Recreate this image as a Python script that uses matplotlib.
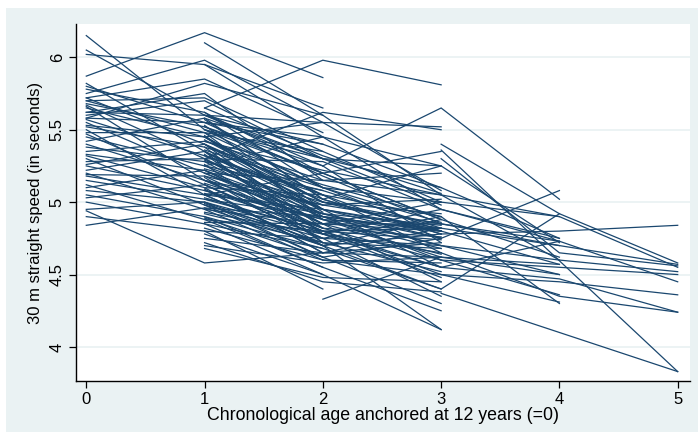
import numpy as np
import matplotlib.pyplot as plt
from matplotlib.patches import Rectangle

plt.rcParams['font.family'] = ['Liberation Sans', 'DejaVu Sans']

filename = 'out'
linecolor = '#1a476f'
bgcolor = '#eaf2f3'

# cohort measured at ages 0, 1, 2
ages0 = [0, 1, 2]
c0 = [
    (6.15, 5.50, 5.20), (6.05, 5.60, 5.30), (6.02, 5.95, 5.65), (5.87, 6.17, 5.86),
    (5.82, 5.35, 4.95), (5.78, 5.62, 5.10), (5.75, 5.98, 5.55), (5.72, 5.40, 5.05),
    (5.70, 5.72, 5.35), (5.68, 5.52, 5.20), (5.67, 5.30, 4.85), (5.65, 5.45, 5.00),
    (5.62, 5.60, 5.25), (5.58, 5.55, 5.45), (5.55, 5.20, 4.90), (5.52, 5.38, 4.78),
    (5.50, 5.05, 4.70), (5.48, 5.48, 5.10), (5.45, 5.25, 4.95), (5.42, 5.58, 5.02),
    (5.40, 5.15, 4.82), (5.35, 5.42, 5.15), (5.32, 5.10, 4.65), (5.30, 4.98, 4.75),
    (5.28, 5.30, 4.92), (5.25, 5.08, 4.88), (5.22, 5.35, 4.72), (5.20, 4.95, 4.60),
    (5.19, 5.18, 4.98), (5.15, 5.02, 4.80), (5.12, 4.88, 4.55), (5.10, 5.22, 4.85),
    (5.05, 4.90, 4.68), (5.03, 5.12, 4.78), (5.00, 4.85, 4.50), (4.95, 5.00, 4.62),
    (4.94, 4.58, 4.65), (4.90, 4.80, 4.40), (4.84, 4.96, 4.70), (5.58, 5.82, 5.60),
    (5.62, 5.75, 5.15), (5.80, 5.55, 5.40), (5.70, 5.48, 4.88), (5.66, 5.15, 4.80),
    (5.57, 5.32, 5.05), (5.53, 5.45, 4.93), (5.47, 5.12, 4.75), (5.38, 5.28, 5.08),
    (5.33, 5.22, 4.82), (5.26, 5.40, 5.00), (5.18, 5.05, 4.95), (5.08, 5.00, 4.72),
    (5.72, 5.85, 5.48), (5.60, 5.70, 5.30),
]

# cohort measured at ages 1, 2, 3
ages1 = [1, 2, 3]
c1 = [
    (6.10, 5.60, 5.05), (5.95, 5.45, 4.95), (5.65, 5.98, 5.81), (5.60, 5.40, 5.10),
    (5.58, 5.30, 5.25), (5.55, 5.18, 4.85), (5.52, 5.25, 4.72), (5.50, 5.10, 4.80),
    (5.48, 5.35, 5.00), (5.45, 5.05, 4.65), (5.42, 5.22, 5.05), (5.40, 4.95, 4.55),
    (5.38, 5.12, 4.90), (5.35, 4.88, 4.62), (5.32, 5.02, 4.78), (5.30, 5.28, 4.95),
    (5.28, 4.85, 4.45), (5.25, 5.08, 4.82), (5.22, 4.92, 4.70), (5.20, 5.15, 5.20),
    (5.18, 4.80, 4.50), (5.15, 4.98, 4.85), (5.12, 4.75, 4.35), (5.10, 5.05, 4.75),
    (5.08, 4.82, 4.60), (5.05, 4.70, 4.12), (5.02, 4.90, 4.80), (5.00, 4.78, 4.55),
    (4.98, 4.62, 4.30), (4.95, 4.85, 5.00), (4.92, 4.72, 4.68), (4.90, 4.55, 4.25),
    (4.88, 4.80, 4.82), (4.85, 4.68, 4.40), (4.82, 4.60, 4.58), (4.80, 4.75, 4.90),
    (4.78, 4.50, 4.12), (4.75, 4.65, 4.72), (4.72, 4.45, 4.38), (4.70, 4.58, 4.62),
    (4.68, 4.48, 4.45), (5.45, 5.55, 5.08), (5.35, 4.98, 5.02), (5.25, 5.45, 5.25),
    (5.60, 5.55, 5.52), (5.30, 5.62, 5.50), (5.05, 5.20, 5.35), (5.15, 4.92, 4.75),
    (5.62, 5.20, 4.88), (5.57, 5.02, 4.78), (5.53, 4.95, 4.82), (5.50, 5.30, 4.98),
    (5.46, 4.90, 4.70), (5.43, 5.00, 4.85), (5.40, 4.82, 4.76), (5.36, 5.10, 4.86),
    (5.33, 4.78, 4.65), (5.29, 4.95, 4.80), (5.26, 4.72, 4.52), (5.23, 5.00, 4.92),
    (5.20, 4.85, 4.80), (5.17, 4.70, 4.78), (5.13, 4.88, 4.68), (5.09, 4.65, 4.82),
    (5.06, 4.92, 4.84), (5.03, 4.80, 4.74), (4.99, 4.70, 4.88), (4.96, 4.90, 4.80),
    (4.93, 4.78, 4.48), (4.89, 4.62, 4.75), (4.86, 4.85, 4.64), (5.65, 5.32, 5.06),
]

# cohort measured at ages 2, 3, 4
ages2 = [2, 3, 4]
c2 = [
    (4.33, 4.62, 4.50), (5.25, 5.65, 5.02), (4.95, 4.75, 5.08), (4.70, 4.40, 4.92),
    (5.10, 5.00, 4.90), (4.85, 4.85, 4.73), (5.00, 4.80, 4.57), (4.75, 4.70, 4.50),
    (4.90, 4.60, 4.36), (4.60, 4.50, 4.31), (5.15, 5.05, 4.60), (4.80, 4.55, 4.73),
    (5.30, 5.10, 4.75), (4.65, 4.62, 4.57), (5.05, 4.90, 4.30), (4.88, 4.82, 4.70),
    (5.20, 4.88, 4.62), (4.78, 4.95, 4.75), (5.02, 5.25, 4.72),
]

# cohort measured at ages 3, 4, 5 (nan = missing at 4)
ages3 = [3, 4, 5]
c3 = [
    (4.78, 4.80, 4.84), (5.40, 4.92, 4.58), (5.05, 4.90, 4.55), (4.95, 4.73, 4.45),
    (4.85, 4.70, 4.57), (4.70, 4.60, 4.52), (4.60, 4.55, 4.50), (4.50, 4.45, 4.36),
    (4.55, 4.47, 4.24), (4.37, 4.10, 3.83), (5.36, np.nan, 3.83), (5.30, 4.65, 4.56),
    (4.65, 4.35, 4.24),
]

xticks = [0, 1, 2, 3, 4, 5]
yticks = [4, 4.5, 5, 5.5, 6]
ytick_labels = ['4', '4.5', '5', '5.5', '6']

fig = plt.figure(figsize=(6.98, 4.32), dpi=100, facecolor='white')
fig.patches.append(Rectangle((6 / 698, 0), 1, 424 / 432, transform=fig.transFigure,
                             facecolor=bgcolor, edgecolor='none', zorder=-5))
ax = fig.add_axes([76 / 698, 51 / 432, 614 / 698, 357 / 432])
ax.set_facecolor('white')

for ages, cohort in [(ages0, c0), (ages1, c1), (ages2, c2), (ages3, c3)]:
    for vals in cohort:
        x = np.array(ages, dtype=float)
        y = np.array(vals, dtype=float)
        ok = ~np.isnan(y)
        ax.plot(x[ok], y[ok], color=linecolor, lw=0.9, solid_joinstyle='miter')

ax.set_xlim(-0.087, 5.104)
ax.set_ylim(3.765, 6.23)
ax.set_xticks(xticks)
ax.set_yticks(yticks)
ax.set_yticklabels(ytick_labels, rotation=90, va='center')
ax.yaxis.grid(True, color=bgcolor, lw=1.3)
ax.set_axisbelow(True)
for s in ['top', 'right']:
    ax.spines[s].set_visible(False)
for s in ['left', 'bottom']:
    ax.spines[s].set_color('black')
    ax.spines[s].set_linewidth(1.0)
ax.tick_params(direction='out', length=5, width=0.9, labelsize=12, colors='black', pad=3)

ax.set_xlabel('Chronological age anchored at 12 years (=0)', fontsize=12.8, labelpad=0)
ax.set_ylabel('30 m straight speed (in seconds)', fontsize=12, labelpad=5)

plt.savefig(filename + '.png', dpi=100, facecolor=fig.get_facecolor())
